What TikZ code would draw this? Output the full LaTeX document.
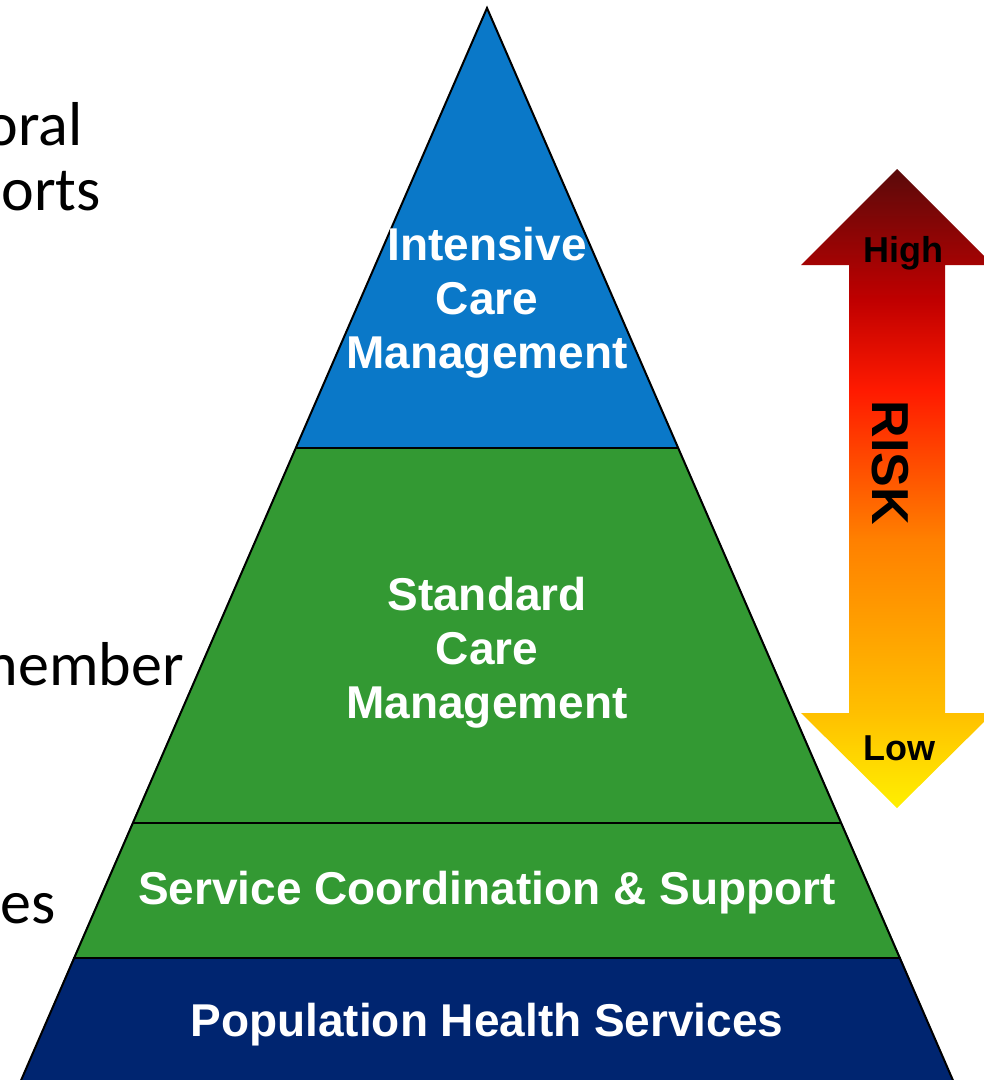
\documentclass[tikz,border=0pt]{standalone}
\usepackage{fontspec}
\setmainfont{Liberation Sans}
\newfontfamily\bodyfont{Carlito}

\definecolor{icmblue}{HTML}{0A78C8}
\definecolor{scmgreen}{HTML}{339933}
\definecolor{phsnavy}{HTML}{002570}
\definecolor{riskyellow}{HTML}{FFF000}
\definecolor{riskamber}{HTML}{FFC000}
\definecolor{riskorange}{HTML}{FF8000}
\definecolor{riskred}{HTML}{FF1A00}
\definecolor{riskcrimson}{HTML}{C00000}
\definecolor{riskdark}{HTML}{5A0A0A}

% bottom (low) to top (high)
\pgfdeclareverticalshading{riskshade}{100bp}{color(0bp)=(riskyellow); color(25bp)=(riskyellow);
  color(32.4bp)=(riskamber); color(46bp)=(riskorange); color(57.7bp)=(riskred);
  color(64.7bp)=(riskcrimson); color(75bp)=(riskdark); color(100bp)=(riskdark)}

\begin{document}
\begin{tikzpicture}[x=1pt, y=-1pt,
	tier/.style={text=white, align=center, font=\bfseries\fontsize{46}{54}\selectfont},
	risklabel/.style={text=black, font=\bfseries\fontsize{36}{36}\selectfont},
	sidetext/.style={anchor=base east, inner sep=0pt, font=\bodyfont\fontsize{62}{62}\selectfont}]
	\useasboundingbox (0,0) rectangle (984,1080);
	\clip (0,0) rectangle (984,1080);

	% cut-off lines of the text column on the left
	\node[sidetext] (txtA) at (83,145) {oral};
	\node[sidetext] (txtB) at (101,210) {orts};
	\node[sidetext] (txtC) at (184,685) {nember};
	\node[sidetext] (txtD) at (56,923) {es};

	% pyramid tiers, top to bottom
	\fill[icmblue] (487,8)--(678.7,448)--(295.3,448)--cycle;
	\fill[scmgreen] (295.3,448)--(678.7,448)--(842,823)--(132,823)--cycle;
	\fill[scmgreen] (132,823)--(842,823)--(900.8,958)--(73.2,958)--cycle;
	\fill[phsnavy] (73.2,958)--(900.8,958)--(955,1085)--(19,1085)--cycle;
	\draw[black, line width=2pt] (19,1085)--(487,8)--(955,1085);
	\foreach \yy/\xl/\xr in {448/295.3/678.7, 823/132/842, 958/73.2/900.8}
		\draw[black, line width=2.5pt] (\xl,\yy)--(\xr,\yy);

	\node[tier] (icm) at (487,303) {Intensive\\Care\\Management};
	\node[tier] (scm) at (487,653) {Standard\\Care\\Management};
	\node[tier] (scs) at (487,893) {Service Coordination \& Support};
	\node[tier] (phs) at (487,1025) {Population Health Services};

	% risk arrow
	\shade[shading=riskshade] (897,169)--(993,265)--(945,265)--(945,713)--(993,713)--(897,808)
		--(801,713)--(849,713)--(849,265)--(801,265)--cycle;
	\node[risklabel] (high) at (903,253) {High};
	\node[risklabel] (low) at (899,748) {Low};
	\node[text=black, rotate=-90, font=\bfseries\fontsize{52}{52}\selectfont] (risk) at (890,463) {RISK};
\end{tikzpicture}
\end{document}
